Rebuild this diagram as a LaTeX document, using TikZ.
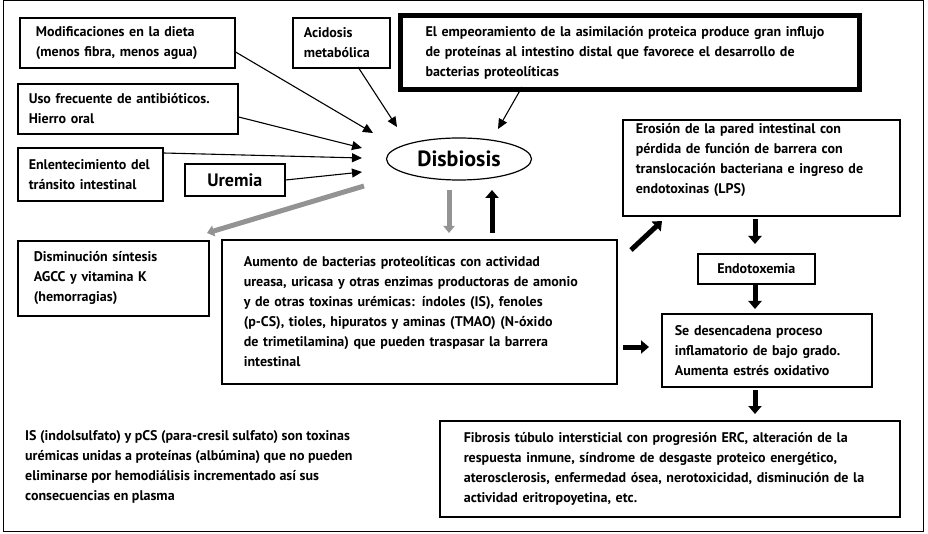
\documentclass[tikz,border=0pt]{standalone}
\usepackage{fontspec}
\setmainfont{PT Sans}
\usetikzlibrary{arrows.meta,shapes.geometric}
\begin{document}
\begin{tikzpicture}[x=1pt,y=-1pt,
  txt/.style={font=\bfseries\fontsize{14}{20}\selectfont},
  box/.style={txt, draw, line width=1.6pt, anchor=north west, inner ysep=0pt, align=left},
  cbox/.style={txt, draw, line width=1.6pt, anchor=north west, inner sep=0pt, align=center},
  thin/.style={line width=1.1pt, -{Triangle[length=10pt,width=9pt]}},
  blk/.style={line width=5pt, -{Triangle[length=8pt,width=13pt]}},
  gry/.style={line width=5pt, draw=gray!85, -{Triangle[length=7pt,width=11pt]}}]
\useasboundingbox (0,0) rectangle (928,534);
\draw[line width=1pt] (3,1) rectangle (923,531);

\node[box, minimum width=215pt, minimum height=50pt, text width=183pt, inner xsep=16pt] (mod) at (19,17)
  {Modificaciones en la dieta\\(menos fibra, menos agua)};
\node[box, minimum width=97pt, minimum height=50pt, text width=75pt, inner xsep=11pt] (acid) at (292,17)
  {Acidosis\\metabólica};
\node[box, line width=5pt, minimum width=459pt, minimum height=74pt, text width=409pt, inner xsep=25pt] (emp) at (398,13)
  {El empeoramiento de la asimilación proteica produce gran influjo\\de proteínas al intestino distal que favorece el desarrollo de\\bacterias proteolíticas};
\node[box, minimum width=220pt, minimum height=50pt, text width=198pt, inner xsep=11pt] (uso) at (17,83)
  {Uso frecuente de antibióticos.\\Hierro oral};
\node[box, minimum width=145pt, minimum height=53pt, text width=123pt, inner xsep=11pt] (enl) at (17,147)
  {Enlentecimiento del\\tránsito intestinal};
\node[cbox, minimum width=100pt, minimum height=32pt, font=\bfseries\fontsize{18}{20}\selectfont] (ure) at (184,163) {Uremia};
\node[draw, ellipse, line width=1.2pt, minimum width=145pt, minimum height=42pt, inner sep=0pt,
  font=\bfseries\fontsize{22}{24}\selectfont] (dis) at (459,159) {Disbiosis};
\node[box, minimum width=191pt, minimum height=75pt, text width=159pt, inner xsep=16pt] (dism) at (17,240)
  {Disminución síntesis\\AGCC y vitamina K\\(hemorragias)};
\node[box, minimum width=395pt, minimum height=144pt, text width=351pt, inner xsep=22pt] (aum) at (221,239)
  {Aumento de bacterias proteolíticas con actividad\\ureasa, uricasa y otras enzimas productoras de amonio\\y de otras toxinas urémicas: índoles (IS), fenoles\\(p-CS), tioles, hipuratos y aminas (TMAO) (N-óxido\\de trimetilamina) que pueden traspasar la barrera\\intestinal};
\node[box, minimum width=277pt, minimum height=96pt, text width=251pt, inner xsep=13pt] (ero) at (622,119)
  {Erosión de la pared intestinal con\\pérdida de función de barrera con\\translocación bacteriana e ingreso de\\endotoxinas (LPS)\rule[-18pt]{0pt}{18pt}};
\node[cbox, minimum width=117pt, minimum height=30pt] (endo) at (697,253) {Endotoxemia};
\node[box, minimum width=210pt, minimum height=73pt, text width=184pt, inner xsep=13pt] (se) at (661,313)
  {Se desencadena proceso\\inflamatorio de bajo grado.\\Aumenta estrés oxidativo};
\node[box, minimum width=460pt, minimum height=96pt, text width=412pt, inner xsep=24pt] (fib) at (439,420)
  {Fibrosis túbulo intersticial con progresión ERC, alteración de la\\respuesta inmune, síndrome de desgaste proteico energético,\\aterosclerosis, enfermedad ósea, nerotoxicidad, disminución de la\\actividad eritropoyetina, etc.};
\node[txt, anchor=north west, align=left, inner sep=0pt] (is) at (25,430)
  {IS (indolsulfato) y pCS (para-cresil sulfato) son toxinas\\urémicas unidas a proteínas (albúmina) que no pueden\\eliminarse por hemodiálisis incrementado así sus\\consecuencias en plasma};

% thin arrows into Disbiosis
\coordinate (t1) at (373,133);
\coordinate (t2) at (397,127);
\coordinate (t3) at (498,129);
\coordinate (t4) at (362,148);
\coordinate (t5) at (362,158);
\coordinate (t6) at (362,172);
\draw[thin] (mod.east |- 0,52) -- (t1);
\draw[thin] (358,67) -- (t2);
\draw[thin] (522,87) -- (t3);
\draw[thin] (uso.east |- 0,117) -- (t4);
\draw[thin] (enl.east |- 0,153) -- (t5);
\draw[thin] (ure.east |- 0,180) -- (t6);

% gray arrows
\coordinate (g1) at (364,186);
\coordinate (g2) at (207,233);
\draw[gry] (g1) -- (g2);
\draw[gry] (449,190) -- (449 ,233);
% black block arrows
\draw[blk] (492,233) -- (492,190);
\draw[blk] (631,250) -- (662,221);
\draw[blk] (755,219) -- (755,244);
\draw[blk] (755,285) -- (755,309);
\draw[blk] (623,347) -- (649,347);
\draw[blk] (755,390) -- (755,414);
\end{tikzpicture}
\end{document}
